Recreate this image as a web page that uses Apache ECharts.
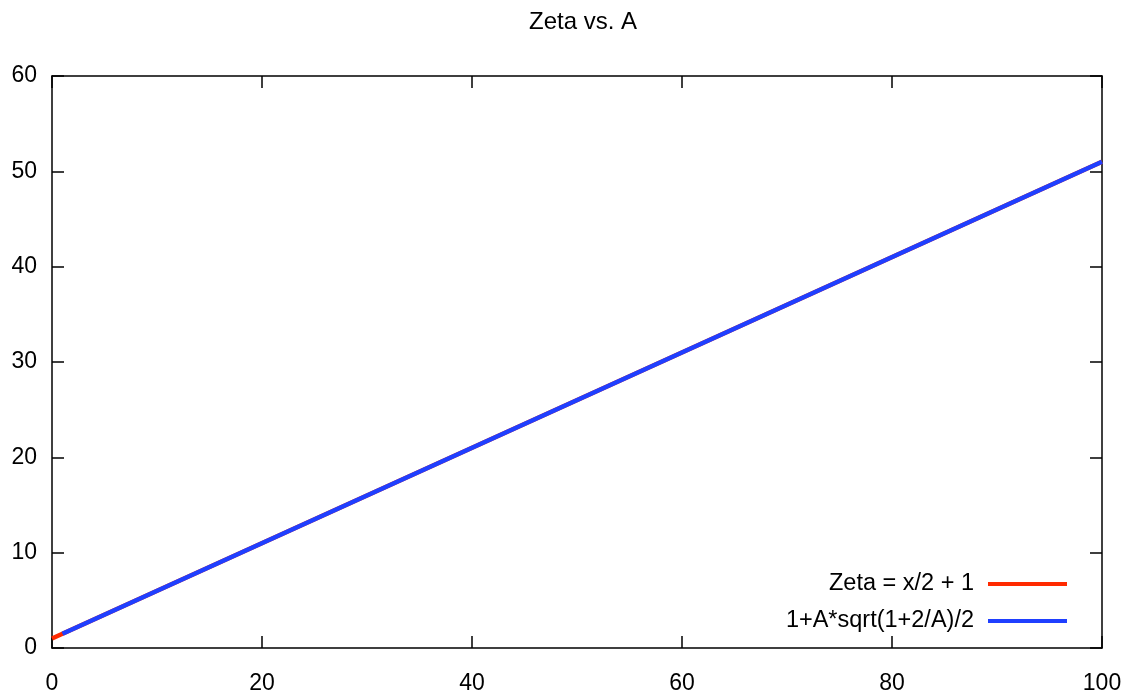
<!DOCTYPE html>
<html><head><meta charset="utf-8">
<script src="https://cdn.jsdelivr.net/npm/echarts@6/dist/echarts.min.js"></script>
<style>html,body{margin:0;padding:0;background:#fff}#c{width:1134px;height:697px}</style>
</head><body><div id="c"></div>
<script>
const titleText = 'Zeta vs. A';
const xTicks = [0, 20, 40, 60, 80, 100];
const yTicks = [0, 10, 20, 30, 40, 50, 60];
const redName = 'Zeta = x/2 + 1';
const redX = [0, 100];
const redY = [1, 51];
const blueName = '1+A*sqrt(1+2/A)/2';
const blueX = [1, 100];
const blueY = [1.5, 51];

const font = 'Liberation Sans, Helvetica, Arial, sans-serif';
const chart = echarts.init(document.getElementById('c'));
const axisBase = {
  type: 'value', splitLine: {show: false},
  axisLine: {show: true, onZero: false, lineStyle: {color: '#000', width: 1.5}},
  axisTick: {show: true, inside: true, length: 12, lineStyle: {color: '#000', width: 1.5}}
};
chart.setOption({
  animation: false,
  title: {text: titleText, left: 524, top: 5,
    textStyle: {fontFamily: font, fontSize: 24, fontWeight: 'normal', color: '#000'}},
  grid: {left: 52, right: 32, top: 76, bottom: 49, containLabel: false},
  xAxis: [
    Object.assign({}, axisBase, {position: 'bottom', min: xTicks[0], max: xTicks[xTicks.length-1], interval: 20,
      axisLabel: {color: '#000', fontFamily: font, fontSize: 23, margin: 24}}),
    Object.assign({}, axisBase, {position: 'top', min: xTicks[0], max: xTicks[xTicks.length-1], interval: 20,
      axisLabel: {show: false}})
  ],
  yAxis: [
    Object.assign({}, axisBase, {position: 'left', min: yTicks[0], max: yTicks[yTicks.length-1], interval: 10,
      axisLabel: {color: '#000', fontFamily: font, fontSize: 23, margin: 15}}),
    Object.assign({}, axisBase, {position: 'right', min: yTicks[0], max: yTicks[yTicks.length-1], interval: 10,
      axisLabel: {show: false}})
  ],
  legend: {
    orient: 'vertical', right: 62, top: 567, align: 'right',
    itemWidth: 79, itemHeight: 4, itemGap: 13, icon: 'rect',
    textStyle: {fontFamily: font, fontSize: 23.5, color: '#000', padding: [0, 9, 0, 0], lineHeight: 23},
    data: [redName, blueName]
  },
  series: [
    {name: redName, type: 'line', showSymbol: false, symbol: 'none',
      data: redX.map((x, i) => [x, redY[i]]), lineStyle: {color: '#ff2a00', width: 4.5}, itemStyle: {color: '#ff2a00'}},
    {name: blueName, type: 'line', showSymbol: false, symbol: 'none',
      data: blueX.map((x, i) => [x, blueY[i]]), lineStyle: {color: '#1f3fff', width: 4.5}, itemStyle: {color: '#1f3fff'}}
  ]
});
</script></body></html>
